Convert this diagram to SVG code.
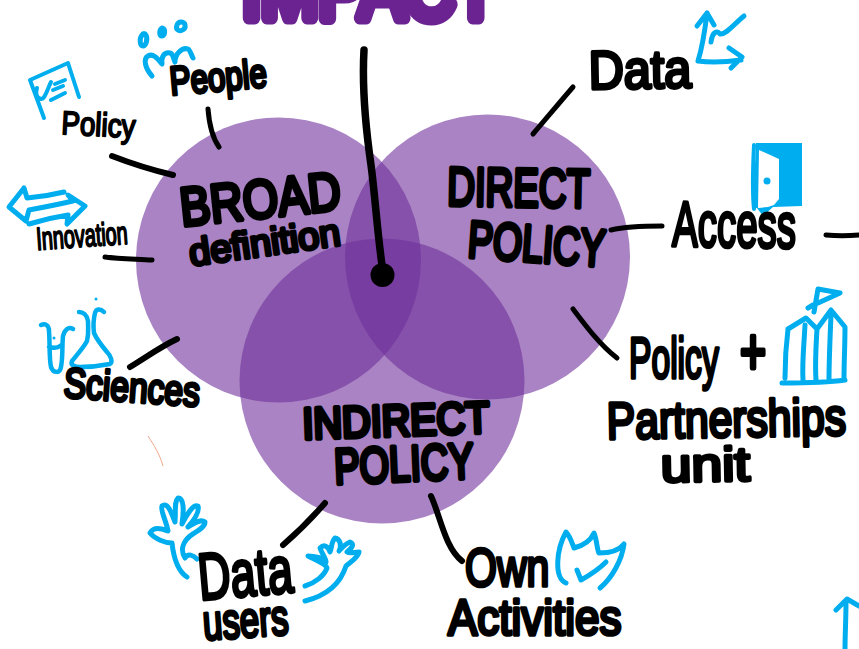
<svg xmlns="http://www.w3.org/2000/svg" width="859" height="649" viewBox="0 0 859 649">
<style>
text{font-family:"Liberation Sans",Arial,sans-serif;font-weight:400;fill:#000;stroke:#000;stroke-linejoin:round;stroke-linecap:round}
.s{stroke-width:2}
.m{stroke-width:3.600}
.b{stroke-width:4.800}
.c{fill:#70309b;fill-opacity:.6}
.l{fill:none;stroke:#000;stroke-linecap:round;stroke-linejoin:round;stroke-width:5}
.i{fill:none;stroke:#00aeef;stroke-linecap:round;stroke-linejoin:round;stroke-width:5}
</style>
<rect width="859" height="649" fill="#fff"/>
<g id="title"><text transform="translate(242 18) scale(.86 1)" font-size="80" style="fill:#6a2391;stroke:#6a2391;stroke-width:13">IMPACT</text></g>
<g id="venn">
<circle id="broad-circle" class="c" cx="278.500" cy="260" r="142.500"/>
<circle id="direct-circle" class="c" cx="487.500" cy="257" r="142.500"/>
<circle id="indirect-circle" class="c" cx="382" cy="381" r="142.500"/>
</g>
<g id="connectors">
<path class="l" d="M364 50C362 85 366 130 371 165C375 195 378 240 383 272" style="stroke-width:7.500"/>
<circle cx="382.500" cy="275" r="12" fill="#000"/>
<path class="l" d="M208 109C209 122 212 137 219 147"/>
<path class="l" style="stroke-width:6" d="M112 156C130 163 152 170 173 175"/>
<path class="l" d="M105 257C120 259 138 259 152 260"/>
<path class="l" style="stroke-width:6" d="M130 367C145 358 160 347 177 339"/>
<path class="l" d="M573 87C560 102 545 120 533 134"/>
<path class="l" d="M611 230C628 226 645 226 662 226"/>
<path class="l" d="M826 235C836 236 848 236 859 235"/>
<path class="l" d="M573 309C585 325 600 345 617 358"/>
<path class="l" style="stroke-width:6" d="M283 545C298 532 312 518 325 503"/>
<path class="l" style="stroke-width:6" d="M431 496C440 515 445 548 462 561"/>
</g>
<g id="broad"><text class="b" transform="translate(182 226) rotate(-6) scale(.84 1)" font-size="54">BROAD</text><text class="m" transform="translate(191 266) rotate(-8)" font-size="38">definition</text></g>
<g id="direct"><text class="b" transform="translate(447 205) rotate(1) scale(.71 1)" font-size="54">DIRECT</text><text class="b" transform="translate(467 257) rotate(4) scale(.72 1)" font-size="52">POLICY</text></g>
<g id="indirect"><text class="b" transform="translate(303 439) rotate(-2) scale(.9 1)" font-size="44">INDIRECT</text><text class="b" transform="translate(335 484) rotate(-2.500) scale(.76 1)" font-size="50">POLICY</text></g>
<g id="people">
<path class="i" d="M142 35c-3 4-2 11 1 11s5-7 3-11c-1-2-3-2-4 0zM162 28c-3 2-3 8 0 8s4-7 0-8zM181 22c-4 0-6 6-3 8s8-1 7-5c0-2-2-3-4-3zM152 76c-7-8-9-17-4-20c5-3 9 2 14 8c-1-7 2-12 8-11c4 1 3 6 5 9c0-8 7-15 13-13c2 1 3 5 5 9"/>
<text class="m" transform="translate(171 95) rotate(-5) scale(.78 1)" font-size="40">People</text>
</g>
<g id="policy">
<path class="i" style="stroke-width:4" d="M44 118L30 80L68 63L79 97M37 88c-2 6 0 10 4 11c4 0 6-9 10-17M55 84l10-4M53 90l10-4M51 100l14-7"/>
<text class="s" transform="translate(61 134) rotate(3) scale(.84 1)" font-size="33">Policy</text>
</g>
<g id="innovation">
<path class="i" d="M24 188L9 207L26 221M24 188L27 198C40 197 52 195 64 192M26 221L29 210C45 207 60 204 73 201L68 195L85 206L67 224L68 215C55 217 42 220 29 224"/>
<text class="s" transform="translate(37 250) rotate(-4) scale(.62 1)" font-size="32">Innovation</text>
</g>
<g id="sciences">
<path class="i" style="stroke-width:4.500" d="M41 325c4-2 8 0 8 6c1 12 0 27 2 36c2 6 9 7 10 0c2-10 1-22 2-31c1-5 5-10 10-7M49 347c4 1 9 1 11-1M79 312c4 0 8 3 9 9c0 8 1 12-1 20c-3 6-11 15-15 20c-2 5 4 6 8 6c10 0 20-1 30-3c3-2 1-8-3-12c-5-6-10-12-13-19c-1-8 0-16 1-20c1-4 5-5 9-1"/>
<circle cx="54" cy="338" r="1.500" fill="#00aeef"/><circle cx="96" cy="299" r="1.500" fill="#00aeef"/>
<text class="m" transform="translate(63 397) rotate(4) scale(.8 1)" font-size="42">Sciences</text>
</g>
<g id="data">
<path class="i" d="M697 26L707 13L714 25M707 13C705 30 702 48 698 61C712 63 727 62 741 60M729 48L742 57L731 68M711 42C712 34 716 29 720 34C726 35 734 24 744 16"/>
<text class="m" transform="translate(589 89) rotate(-1) scale(.9 1)" font-size="54">Data</text>
</g>
<g id="access">
<path d="M756 143L802 143L802 206L773 207L763 216L757 208L753 208Z" fill="#00aeef"/>
<path d="M759 150L758 208L768 207L774 205L779 199L779 159Z" fill="#fff"/>
<path class="i" style="stroke-width:4" d="M754 145C753 165 752 190 754 209"/>
<circle cx="767" cy="181" r="3.500" fill="#00aeef"/>
<text class="m" transform="translate(672 246) rotate(1) scale(.6 1)" font-size="64">Access</text>
</g>
<g id="partnerships">
<path class="i" d="M814 312L818 289L840 293L818 303M813 305L808 308M788 329C786 345 785 362 785 378M788 329L806 318L817 329L831 310L845 327C845 345 844 362 844 379M805 325C804 345 802 362 803 380M817 329C816 345 815 365 816 380M831 315C830 340 829 360 829 380M782 383C802 383 825 383 845 380"/>
<text class="m" transform="translate(629 378) scale(.58 1)" font-size="58">Policy</text>
<text class="b" transform="translate(740 374) scale(.7 1)" font-size="64">+</text>
<text class="m" transform="translate(607 439) rotate(-1) scale(.82 1)" font-size="52">Partnerships</text>
<text class="m" transform="translate(661 482) rotate(-1) scale(1.150 1)" font-size="48">unit</text>
</g>
<g id="data-users">
<path class="i" d="M187 577C176 570 173 552 172 543C165 543 155 539 150 533C154 526 162 529 168 531C166 520 160 510 162 506C168 501 172 515 175 522C176 510 174 502 178 498C184 498 184 510 182 524C186 517 192 504 198 506C200 512 194 520 188 527C194 524 200 518 205 522C205 528 195 532 190 536C183 542 180 550 185 558C188 553 193 555 197 559"/>
<path class="i" d="M305 601C325 596 340 585 346 566C350 562 358 558 359 552C354 552 350 554 347 552C352 548 355 544 350 542C345 544 342 548 339 551C342 545 340 539 335 538C331 542 332 548 330 552C328 546 324 544 320 548C322 554 326 558 326 562C324 558 314 556 308 556C316 560 326 564 327 568C324 576 315 583 305 586"/>
<text class="m" transform="translate(200 600) rotate(-5) scale(.68 1)" font-size="66">Data</text>
<text class="m" transform="translate(204 640) rotate(-4) scale(.7 1)" font-size="50">users</text>
</g>
<g id="own-activities">
<path class="i" d="M566 583C554 578 556 550 566 532C570 536 572 543 574 548C582 546 590 542 594 533C597 540 597 550 599 553C607 553 618 552 624 544C622 560 612 578 600 588M577 570L581 580C590 575 600 568 606 562"/>
<text class="m" transform="translate(465 586) scale(.76 1)" font-size="54">Own</text>
<text class="m" transform="translate(448 635) scale(.88 1)" font-size="50">Activities</text>
</g>
<g id="arrow-fragment"><path class="i" d="M836 610L847 599L859 606M846 600C846 620 845 635 845 649"/></g>
<path id="stray-mark" d="M148 436C154 445 160 455 163 466" fill="none" stroke="#e8835c" stroke-width=".7"/>
</svg>
